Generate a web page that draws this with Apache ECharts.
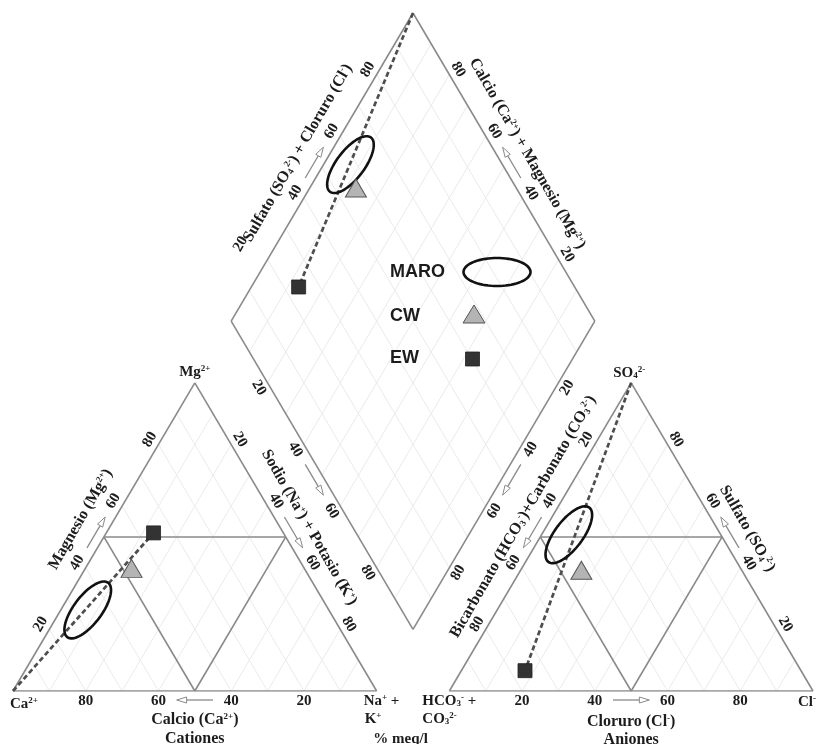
<!DOCTYPE html>
<html>
<head>
<meta charset="utf-8">
<title>Diagrama de Piper</title>
<script src="https://cdn.jsdelivr.net/npm/echarts@6/dist/echarts.min.js"></script>
<style>
  html, body { margin: 0; padding: 0; background: #fff; }
  #chart { width: 817px; height: 744px; }
</style>
</head>
<body>
<div id="chart"></div>
<script>
// ---- Data: composition of each water type, % meq/l ----
const SAMPLES = ['MARO', 'CW', 'EW'];
// cations
const CA  = [66.3, 47.5, 35.7];
const MG  = [26.3, 39.8, 51.3];
const NAK = [7.4, 12.7, 13.0];
// anions
const HCO3 = [41.8, 44.1, 75.9];
const SO4  = [50.7, 39.2, 6.6];
const CL   = [7.5, 16.7, 17.5];
// axis tick labels
const TICKS = [20, 40, 60, 80];

// ---- Piper geometry (plot units: one triangle side = 100) ----
const GAP = 20;
const H = Math.sqrt(3) / 2;
const cat = (ca, mg, nak) => [nak + mg / 2, mg * H];
const ani = (hco3, so4, cl) => [100 + GAP + cl + so4 / 2, so4 * H];
const dia = (nak, scl) => [50 + GAP / 2 + (nak + scl) / 2, (100 + GAP - nak + scl) * H];
const lerp = (a, b, t) => [a[0] + (b[0] - a[0]) * t, a[1] + (b[1] - a[1]) * t];

const V = {
  ca: cat(100, 0, 0), mg: cat(0, 100, 0), na: cat(0, 0, 100),
  hco3: ani(100, 0, 0), so4: ani(0, 100, 0), cl: ani(0, 0, 100),
  dL: dia(0, 0), dT: dia(0, 100), dB: dia(100, 0), dR: dia(100, 100)
};

const SERIF = '"Liberation Serif", "Times New Roman", serif';
const SANS = '"Liberation Sans", Arial, sans-serif';
const INK = '#1c1c1c';
const FRAME = '#8a8a8a';

const RICH = {
  sup: { fontFamily: SERIF, fontWeight: 'bold', fontSize: 9, verticalAlign: 'top', fill: INK },
  sub: { fontFamily: SERIF, fontWeight: 'bold', fontSize: 9, verticalAlign: 'bottom', fill: INK }
};

// edges carrying a percentage scale: value 0 at `from`, 100 at `to`
// n = outward normal (plot space, y up), rot = text angle in degrees
const EDGES = [
  { from: V.na,  to: V.ca,   n: [0, -1],    rot: 0 },    // Ca
  { from: V.ca,  to: V.mg,   n: [-H, 0.5],  rot: 60 },   // Mg
  { from: V.mg,  to: V.na,   n: [H, 0.5],   rot: -60 },  // Na + K
  { from: V.hco3, to: V.cl,  n: [0, -1],    rot: 0 },    // Cl
  { from: V.cl,  to: V.so4,  n: [H, 0.5],   rot: -60 },  // SO4
  { from: V.so4, to: V.hco3, n: [-H, 0.5],  rot: 60 },   // HCO3 + CO3
  { from: V.dL,  to: V.dT,   n: [-H, 0.5],  rot: 60 },   // SO4 + Cl
  { from: V.dR,  to: V.dT,   n: [H, 0.5],   rot: -60 },  // Ca + Mg
  { from: V.dL,  to: V.dB,   n: [-H, -0.5], rot: -60 },  // Na + K
  { from: V.dR,  to: V.dB,   n: [H, -0.5],  rot: 60 }    // HCO3 + CO3
];

// ---- text items ----
const TEXTS = [];
function addText(pos, dx, dy, text, rot, opts) {
  TEXTS.push(Object.assign({ pos, dx, dy, text, rot: rot || 0, size: 15, align: 'center' }, opts || {}));
}
function edgeText(ei, value, off, text, size) {
  const e = EDGES[ei];
  addText(lerp(e.from, e.to, value / 100), e.n[0] * off, -e.n[1] * off, text, e.rot, { size });
}

EDGES.forEach((e, ei) => {
  TICKS.forEach(t => {
    let off = 10;
    if (ei === 6 && t === 20) off = 31;
    edgeText(ei, t, off, String(t), 15);
  });
});

// axis titles
edgeText(0, 50, 29, 'Calcio (Ca{sup|2+})', 16);
edgeText(0, 50, 48, 'Cationes', 16);
edgeText(1, 51, 29, 'Magnesio (Mg{sup|2+})', 16);
edgeText(2, 51, 25, 'Sodio (Na{sup|+}) + Potasio (K{sup|+})', 16);
edgeText(3, 50, 31, 'Cloruro (Cl{sup|-})', 16);
edgeText(3, 50, 49, 'Aniones', 16);
edgeText(4, 48.5, 26, 'Sulfato (SO{sub|4}{sup|2-})', 16);
edgeText(5, 47.5, 25, 'Bicarbonato (HCO{sub|3}{sup|-})+Carbonato (CO{sub|3}{sup|2-})', 16);
edgeText(6, 50, 28, 'Sulfato (SO{sub|4}{sup|2-}) + Cloruro (Cl{sup|-})', 16);
edgeText(7, 50, 27, 'Calcio (Ca{sup|2+}) + Magnesio (Mg{sup|2+})', 16);

// vertex labels
addText(V.ca, -3, 13, 'Ca{sup|2+}', 0, { align: 'left' });
addText(V.na, -13, 10, 'Na{sup|+} +', 0, { align: 'left' });
addText(V.na, -12, 28, 'K{sup|+}', 0, { align: 'left' });
addText(V.na, 24, 48, '% meq/l', 0);
addText(V.mg, 0, -11, 'Mg{sup|2+}', 0);
addText(V.so4, -2, -10, 'SO{sub|4}{sup|2-}', 0);
addText(V.hco3, -27, 10, 'HCO{sub|3}{sup|-} +', 0, { align: 'left' });
addText(V.hco3, -27, 28, 'CO{sub|3}{sup|2-}', 0, { align: 'left' });
addText(V.cl, -15, 11, 'Cl{sup|-}', 0, { align: 'left' });

// ---- line geometry ----
const seg = (a, b) => ({ coords: [a, b] });
const gridSegs = [];
for (let t = 10; t < 100; t += 10) {
  gridSegs.push(seg(cat(100 - t, 0, t), cat(0, 100 - t, t)));
  gridSegs.push(seg(cat(t, 0, 100 - t), cat(t, 100 - t, 0)));
  gridSegs.push(seg(ani(100 - t, 0, t), ani(0, 100 - t, t)));
  gridSegs.push(seg(ani(t, 0, 100 - t), ani(t, 100 - t, 0)));
  gridSegs.push(seg(dia(t, 0), dia(t, 100)));
  gridSegs.push(seg(dia(0, t), dia(100, t)));
}
const frameSegs = [
  seg(V.ca, V.na), seg(V.na, V.mg), seg(V.mg, V.ca),
  seg(V.hco3, V.cl), seg(V.cl, V.so4), seg(V.so4, V.hco3),
  seg(V.dL, V.dT), seg(V.dT, V.dR), seg(V.dR, V.dB), seg(V.dB, V.dL),
  // inner triangles at 50 %
  seg(cat(50, 50, 0), cat(0, 50, 50)), seg(cat(50, 50, 0), cat(50, 0, 50)), seg(cat(50, 0, 50), cat(0, 50, 50)),
  seg(ani(50, 50, 0), ani(0, 50, 50)), seg(ani(50, 50, 0), ani(50, 0, 50)), seg(ani(50, 0, 50), ani(0, 50, 50))
];

const pointsFor = i => [
  cat(CA[i], MG[i], NAK[i]),
  dia(NAK[i], SO4[i] + CL[i]),
  ani(HCO3[i], SO4[i], CL[i])
];
const EW = SAMPLES.indexOf('EW');
const ewPts = pointsFor(EW);
const trendSegs = [seg(V.ca, ewPts[0]), seg(V.dT, ewPts[1]), seg(V.so4, ewPts[2])];

function ellipsePoints(cx, cy, a, b, deg) {
  const phi = deg * Math.PI / 180, pts = [];
  for (let k = 0; k < 72; k++) {
    const t = k / 72 * Math.PI * 2;
    const ex = a * Math.cos(t), ey = b * Math.sin(t);
    pts.push([cx + ex * Math.cos(phi) - ey * Math.sin(phi), cy - (ex * Math.sin(phi) + ey * Math.cos(phi))]);
  }
  return pts;
}

const chart = echarts.init(document.getElementById('chart'));
chart.setOption({
  animation: false,
  backgroundColor: '#ffffff',
  grid: { left: 13, right: 4, top: 13, bottom: 53 },
  xAxis: { type: 'value', min: 0, max: 200 + GAP, show: false },
  yAxis: { type: 'value', min: 0, max: (200 + GAP) * H, show: false },
  series: [
    {
      type: 'lines', coordinateSystem: 'cartesian2d', silent: true, z: 1,
      data: gridSegs, lineStyle: { color: '#ebebeb', width: 1, opacity: 1 }
    },
    {
      type: 'lines', coordinateSystem: 'cartesian2d', silent: true, z: 2,
      data: frameSegs, lineStyle: { color: FRAME, width: 1.6, opacity: 1 }
    },
    {
      type: 'lines', coordinateSystem: 'cartesian2d', silent: true, z: 3,
      data: trendSegs, lineStyle: { color: '#4e4e4e', width: 2.7, type: [5, 3], opacity: 1 }
    },
    {
      name: 'MARO', type: 'custom', z: 4, silent: true,
      data: pointsFor(SAMPLES.indexOf('MARO')),
      renderItem(params, api) {
        const c = api.coord([api.value(0), api.value(1)]);
        return {
          type: 'polygon',
          shape: { points: ellipsePoints(c[0], c[1], 34, 14, 53) },
          style: { fill: 'none', stroke: '#111', lineWidth: 2.6 }
        };
      }
    },
    {
      name: 'CW', type: 'scatter', z: 5, symbol: 'triangle', symbolSize: [21, 18],
      data: pointsFor(SAMPLES.indexOf('CW')),
      itemStyle: { color: '#b4b4b4', borderColor: '#555', borderWidth: 1, opacity: 1 }
    },
    {
      name: 'EW', type: 'scatter', z: 5, symbol: 'rect', symbolSize: 14,
      data: ewPts,
      itemStyle: { color: '#333333', borderColor: '#222', borderWidth: 0.8, opacity: 1 }
    },
    {
      // direction arrows along each percentage scale
      type: 'custom', z: 6, silent: true,
      data: EDGES.map((e, i) => [...lerp(e.from, e.to, 0.45), ...lerp(e.from, e.to, 0.55), i]),
      renderItem(params, api) {
        const e = EDGES[api.value(4)];
        const off = [e.n[0] * 9, -e.n[1] * 9];
        const p1 = api.coord([api.value(0), api.value(1)]);
        const p2 = api.coord([api.value(2), api.value(3)]);
        const a = [p1[0] + off[0], p1[1] + off[1]];
        const b = [p2[0] + off[0], p2[1] + off[1]];
        const len = Math.hypot(b[0] - a[0], b[1] - a[1]);
        const d = [(b[0] - a[0]) / len, (b[1] - a[1]) / len];
        const q = [-d[1], d[0]];
        const hl = 10, hw = 3;
        const base = [b[0] - d[0] * hl, b[1] - d[1] * hl];
        return {
          type: 'group',
          children: [
            { type: 'line', shape: { x1: a[0], y1: a[1], x2: base[0], y2: base[1] },
              style: { stroke: FRAME, lineWidth: 1.3 } },
            { type: 'polygon',
              shape: { points: [b, [base[0] + q[0] * hw, base[1] + q[1] * hw], [base[0] - q[0] * hw, base[1] - q[1] * hw]] },
              style: { fill: '#fff', stroke: FRAME, lineWidth: 1 } }
          ]
        };
      }
    },
    {
      type: 'custom', z: 7, silent: true,
      data: TEXTS.map((t, i) => [t.pos[0], t.pos[1], i]),
      renderItem(params, api) {
        const t = TEXTS[api.value(2)];
        const p = api.coord([api.value(0), api.value(1)]);
        return {
          type: 'text',
          x: p[0] + t.dx, y: p[1] + t.dy,
          rotation: t.rot * Math.PI / 180,
          style: {
            text: t.text, rich: RICH,
            fontFamily: SERIF, fontWeight: 'bold', fontSize: t.size,
            fill: INK, align: t.align, verticalAlign: 'middle'
          }
        };
      }
    }
  ],
  // key for the three water types
  graphic: [
    { type: 'group', z: 100, children: [
      { type: 'text', x: 390, y: 272, z: 100, style: { text: 'MARO', font: 'bold 18px ' + SANS, fill: INK, verticalAlign: 'middle' } },
      { type: 'text', x: 390, y: 316, z: 100, style: { text: 'CW', font: 'bold 18px ' + SANS, fill: INK, verticalAlign: 'middle' } },
      { type: 'text', x: 390, y: 358, z: 100, style: { text: 'EW', font: 'bold 18px ' + SANS, fill: INK, verticalAlign: 'middle' } },
      { type: 'polygon', z: 100, shape: { points: ellipsePoints(497, 272, 33.5, 14, 0) },
        style: { fill: 'none', stroke: '#111', lineWidth: 2.6 } },
      { type: 'polygon', z: 100, shape: { points: [[474, 305], [463, 323], [485, 323]] },
        style: { fill: '#b4b4b4', stroke: '#555', lineWidth: 1 } },
      { type: 'rect', z: 100, shape: { x: 465.5, y: 352, width: 14, height: 14 },
        style: { fill: '#333', stroke: '#222', lineWidth: 0.8 } }
    ] }
  ]
});
</script>
</body>
</html>
